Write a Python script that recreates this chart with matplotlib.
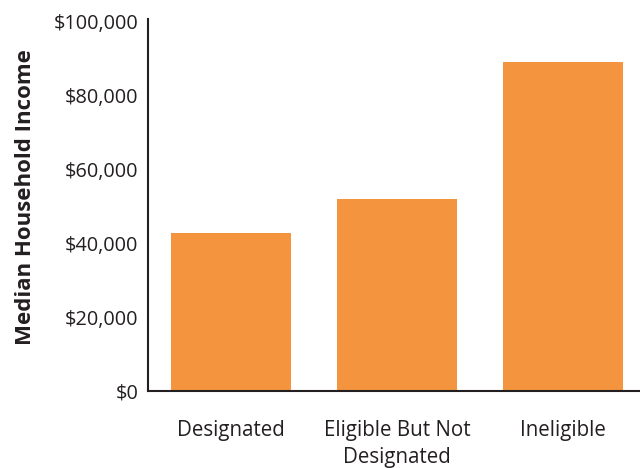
import matplotlib
matplotlib.use("Agg")
import matplotlib.pyplot as plt
from matplotlib.ticker import FuncFormatter

categories = ["Designated", "Eligible But Not\nDesignated", "Ineligible"]
values = [42700, 51900, 88900]
yticks = [0, 20000, 40000, 60000, 80000, 100000]

plt.rcParams['font.family'] = ['Open Sans', 'DejaVu Sans']

fig = plt.figure(figsize=(6.4, 4.68), dpi=100)
ax = fig.add_axes([148/640, 1-391/468, 1-148/640, (391-21)/468])

x = list(range(len(categories)))
ax.bar(x, values, width=0.723, color="#F5943F", zorder=2)

ax.set_xlim(-0.5, 2.464)
ax.set_ylim(0, 100000)
ax.set_yticks(yticks)
ax.yaxis.set_major_formatter(FuncFormatter(lambda v, p: f"${int(v):,}"))
ax.set_xticks(x)
ax.set_xticklabels(categories, fontsize=14.8, color="#231F20", linespacing=1.38)
ax.tick_params(axis='y', length=0, pad=7, labelsize=14.3, labelcolor="#231F20")
ax.tick_params(axis='x', length=0, pad=21)

for s in ["top", "right"]:
    ax.spines[s].set_visible(False)
for s in ["left", "bottom"]:
    ax.spines[s].set_color("#231F20")
    ax.spines[s].set_linewidth(1.5)
ax.spines["left"].set_bounds(0, 100500)

ax.set_ylabel("Median Household Income", fontsize=16, fontweight="bold",
              color="#231F20")
ax.yaxis.set_label_coords(-0.228, 0.524)

fig.savefig("out.png", dpi=100)
